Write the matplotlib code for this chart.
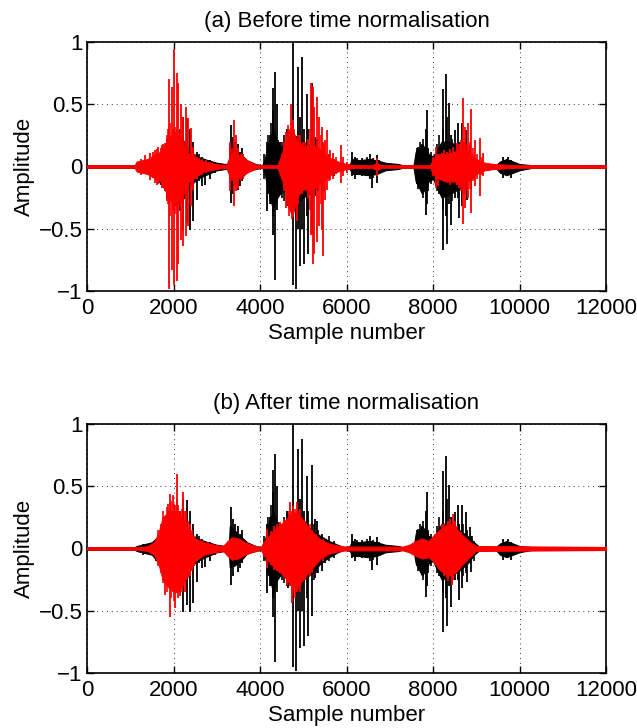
import matplotlib
matplotlib.use("Agg")
import matplotlib.pyplot as plt

plt.rcParams['font.family'] = ['Liberation Sans', 'DejaVu Sans']

# ---------------- data ----------------
# Reference signal (black), same in both panels: dense body envelope
black_env_x = [0, 1100, 1150, 1500, 1800, 1950, 2100, 2250, 2400, 2550,
               2800, 3000, 3200, 3280, 3300, 3400, 3550, 3700, 3900, 4050,
               4100, 4200, 4300, 4400, 4500, 4600, 4800, 5000, 5200, 5400,
               5600, 5800, 5950, 6080, 6120, 6300, 6500, 6700, 6900, 7200,
               7300, 7550, 7600, 7750, 7900, 8000, 8200, 8400, 8600, 8800,
               8950, 9050, 9450, 9550, 9700, 9850, 10000, 10300, 12000]
black_env_hi = [0.01, 0.01, 0.02, 0.05, 0.15, 0.25, 0.25, 0.20, 0.12, 0.08,
                0.05, 0.03, 0.02, 0.02, 0.18, 0.15, 0.10, 0.05, 0.02, 0.01,
                0.05, 0.20, 0.30, 0.20, 0.15, 0.20, 0.25, 0.20, 0.15, 0.10,
                0.06, 0.03, 0.01, 0.02, 0.06, 0.05, 0.06, 0.05, 0.03, 0.02,
                0.01, 0.01, 0.12, 0.18, 0.10, 0.08, 0.20, 0.20, 0.15, 0.10,
                0.05, 0.02, 0.01, 0.04, 0.06, 0.04, 0.02, 0.01, 0.01]
black_env_lo = [-0.01, -0.01, -0.02, -0.05, -0.18, -0.28, -0.30, -0.25, -0.15, -0.10,
                -0.06, -0.03, -0.02, -0.02, -0.15, -0.14, -0.10, -0.04, -0.02, -0.01,
                -0.05, -0.20, -0.35, -0.25, -0.20, -0.20, -0.30, -0.25, -0.20, -0.12,
                -0.07, -0.03, -0.01, -0.02, -0.06, -0.06, -0.07, -0.06, -0.03, -0.02,
                -0.01, -0.01, -0.12, -0.22, -0.12, -0.10, -0.25, -0.22, -0.18, -0.12,
                -0.05, -0.02, -0.01, -0.05, -0.07, -0.05, -0.03, -0.01, -0.01]
# Reference signal: individual large peaks
black_spk_x = [2227, 2304, 2381, 2459, 2536, 2650, 2728, 2850,
               3329, 3383, 3420, 3499, 3540, 3576,
               4154, 4230, 4293, 4308, 4347, 4385, 4424, 4462, 4616, 4655,
               4755, 4832, 4886, 4925, 4979, 5017, 5079, 5117, 5194, 5272,
               5310, 5426, 5500,
               6119, 6200, 6350, 6543, 6582, 6697, 6750,
               7622, 7738, 7830, 7853, 7892, 8223, 8239, 8293, 8316, 8370,
               8416, 8508, 8585, 8601, 8663, 8678, 8755, 8778, 8855, 8878,
               9620, 9742, 9800]
black_spk_hi = [0.40, 0.39, 0.30, 0.20, 0.12, 0.08, 0.06, 0.05,
                0.33, 0.24, 0.20, 0.18, 0.12, 0.15,
                0.20, 0.25, 0.45, 0.63, 0.76, 0.50, 0.21, 0.20, 0.30, 0.28,
                1.00, 0.24, 0.80, 0.40, 0.88, 0.30, 0.58, 0.30, 0.67, 0.24,
                0.22, 0.12, 0.08,
                0.12, 0.08, 0.07, 0.10, 0.06, 0.09, 0.05,
                0.15, 0.18, 0.30, 0.45, 0.15, 0.62, 0.30, 0.74, 0.40, 0.51,
                0.25, 0.29, 0.35, 0.20, 0.35, 0.20, 0.29, 0.15, 0.17, 0.10,
                0.08, 0.08, 0.05]
black_spk_lo = [-0.51, -0.45, -0.51, -0.44, -0.27, -0.16, -0.15, -0.10,
                -0.29, -0.22, -0.12, -0.19, -0.16, -0.12,
                -0.36, -0.30, -0.40, -0.55, -0.91, -0.35, -0.24, -0.22, -0.30, -0.32,
                -0.95, -0.98, -0.50, -0.80, -0.50, -0.78, -0.40, -0.70, -0.54, -0.24,
                -0.20, -0.18, -0.12,
                -0.08, -0.10, -0.08, -0.10, -0.17, -0.13, -0.06,
                -0.14, -0.21, -0.39, -0.30, -0.20, -0.35, -0.67, -0.40, -0.62, -0.30,
                -0.47, -0.25, -0.25, -0.41, -0.20, -0.32, -0.20, -0.27, -0.12, -0.19,
                -0.09, -0.07, -0.09]
# Reference signal: smaller peaks on the edge of the dense body
black_bdy_x = [1300, 1600, 1700, 1850, 1900, 2000, 2050, 2150, 2600, 2950, 3050,
               4100, 4190, 4260, 4500, 4550, 4700, 5250, 5350, 5600, 5700,
               6150, 6250, 6420, 6470, 6620,
               7650, 7700, 7780, 7950, 8100, 8150, 8450, 8700, 8900, 8950]
black_bdy_hi = [0.04, 0.08, 0.12, 0.22, 0.30, 0.30, 0.28, 0.30, 0.10, 0.04, 0.03,
                0.10, 0.25, 0.35, 0.20, 0.25, 0.25, 0.20, 0.15, 0.10, 0.06,
                0.05, 0.07, 0.05, 0.08, 0.07,
                0.16, 0.20, 0.22, 0.12, 0.18, 0.25, 0.22, 0.20, 0.10, 0.06]
black_bdy_lo = [-0.05, -0.10, -0.15, -0.26, -0.30, -0.35, -0.32, -0.36, -0.12, -0.05, -0.04,
                -0.10, -0.22, -0.30, -0.25, -0.28, -0.30, -0.25, -0.20, -0.10, -0.08,
                -0.07, -0.06, -0.08, -0.05, -0.09,
                -0.18, -0.16, -0.25, -0.14, -0.20, -0.22, -0.28, -0.22, -0.08, -0.10]

# Test signal before time normalisation (red, panel a)
red_a_env_x = [0, 1100, 1150, 1400, 1700, 1850, 2000, 2150, 2300, 2450,
               2700, 3000, 3200, 3230, 3300, 3400, 3550, 3750, 3880, 3950,
               4400, 4450, 4550, 4650, 4750, 4850, 5000, 5150, 5350, 5550,
               5800, 6000, 6200, 6600, 6700, 6800, 7930, 8000, 8150, 8300,
               8500, 8650, 8800, 9000, 9200, 9400, 9900, 12000]
red_a_env_hi = [0.01, 0.01, 0.04, 0.06, 0.12, 0.20, 0.27, 0.22, 0.12, 0.08,
                0.04, 0.02, 0.01, 0.02, 0.08, 0.12, 0.08, 0.04, 0.02, 0.01,
                0.01, 0.05, 0.15, 0.28, 0.30, 0.20, 0.15, 0.18, 0.15, 0.08,
                0.04, 0.02, 0.01, 0.01, 0.03, 0.01, 0.01, 0.06, 0.10, 0.10,
                0.12, 0.15, 0.12, 0.06, 0.03, 0.02, 0.01, 0.01]
red_a_env_lo = [-0.01, -0.01, -0.04, -0.06, -0.12, -0.22, -0.30, -0.25, -0.14, -0.09,
                -0.04, -0.02, -0.01, -0.02, -0.08, -0.12, -0.08, -0.04, -0.02, -0.01,
                -0.01, -0.05, -0.15, -0.32, -0.40, -0.25, -0.18, -0.20, -0.15, -0.08,
                -0.04, -0.02, -0.01, -0.01, -0.03, -0.01, -0.01, -0.06, -0.10, -0.12,
                -0.12, -0.15, -0.12, -0.06, -0.03, -0.02, -0.01, -0.01]
red_a_spk_x = [1200, 1260, 1341, 1457, 1520, 1572, 1610, 1649, 1700, 1726,
               1760, 1803, 1904, 1958, 2012, 2073, 2112, 2173, 2227, 2281,
               2343, 2397, 2459, 2550,
               3306, 3406, 3440, 3500, 3600,
               4600, 4709, 4755, 4848, 4925, 5002, 5079, 5179, 5218, 5256,
               5310, 5364, 5426, 5449, 5503, 5557, 5618, 5695, 5865, 5927, 6004,
               6697,
               8069, 8123, 8200, 8316, 8470, 8547, 8647, 8686, 8740, 8817,
               8878, 8971, 9086, 9163]
red_a_spk_hi = [0.04, 0.06, 0.09, 0.11, 0.12, 0.13, 0.14, 0.16, 0.15, 0.17,
                0.18, 0.19, 0.70, 0.64, 0.94, 0.75, 0.67, 0.50, 0.40, 0.48,
                0.39, 0.31, 0.16, 0.08,
                0.20, 0.37, 0.25, 0.15, 0.10,
                0.28, 0.50, 0.37, 0.20, 0.25, 0.20, 0.15, 0.67, 0.64, 0.48,
                0.56, 0.40, 0.32, 0.20, 0.21, 0.29, 0.13, 0.11, 0.17, 0.08, 0.04,
                0.07,
                0.16, 0.10, 0.11, 0.12, 0.16, 0.19, 0.21, 0.55, 0.32, 0.35,
                0.46, 0.21, 0.23, 0.11]
red_a_spk_lo = [-0.05, -0.07, -0.06, -0.11, -0.09, -0.13, -0.15, -0.14, -0.12, -0.17,
                -0.15, -0.20, -0.98, -0.83, -0.95, -0.92, -0.78, -0.59, -0.64, -0.56,
                -0.48, -0.32, -0.19, -0.10,
                -0.20, -0.32, -0.20, -0.18, -0.10,
                -0.33, -0.35, -0.40, -0.44, -0.20, -0.20, -0.10, -0.55, -0.78, -0.70,
                -0.61, -0.48, -0.50, -0.72, -0.27, -0.19, -0.11, -0.10, -0.13, -0.08, -0.05,
                -0.08,
                -0.17, -0.16, -0.10, -0.09, -0.11, -0.15, -0.20, -0.46, -0.33, -0.25,
                -0.37, -0.16, -0.24, -0.08]
red_a_bdy_x = [1850, 1880, 1930, 1980, 2040, 2090, 2140, 2200, 2250, 2320,
               2420, 2500, 2600, 2650, 2750, 2850,
               3350, 3470, 3550, 3650,
               4500, 4560, 4640, 4680, 4730, 4790, 4880, 4970, 5050, 5120,
               5150, 5400, 5480, 5600, 5750,
               8000, 8250, 8400, 8600, 8720, 8780, 8850, 8920, 9020, 9130]
red_a_bdy_hi = [0.25, 0.30, 0.35, 0.30, 0.32, 0.30, 0.28, 0.22, 0.20, 0.15,
                0.12, 0.10, 0.07, 0.06, 0.05, 0.04,
                0.15, 0.14, 0.10, 0.07,
                0.10, 0.20, 0.33, 0.30, 0.35, 0.30, 0.25, 0.18, 0.20, 0.22,
                0.30, 0.25, 0.18, 0.10, 0.08,
                0.08, 0.13, 0.14, 0.18, 0.20, 0.18, 0.20, 0.15, 0.10, 0.08]
red_a_bdy_lo = [-0.28, -0.30, -0.40, -0.35, -0.38, -0.35, -0.32, -0.28, -0.24, -0.20,
                -0.12, -0.10, -0.08, -0.07, -0.05, -0.04,
                -0.12, -0.16, -0.12, -0.06,
                -0.10, -0.20, -0.30, -0.40, -0.42, -0.35, -0.30, -0.22, -0.18, -0.25,
                -0.35, -0.30, -0.20, -0.12, -0.06,
                -0.08, -0.12, -0.15, -0.17, -0.22, -0.20, -0.18, -0.12, -0.10, -0.07]

# Test signal after time normalisation (red, panel b)
red_b_env_x = [0, 1200, 1400, 1550, 1650, 1750, 1900, 2050, 2200, 2350,
               2500, 2700, 2950, 3100, 3150, 3250, 3350, 3500, 3650, 3800,
               3950, 4000, 4020, 4080, 4200, 4350, 4500, 4650, 4800, 4950,
               5100, 5250, 5400, 5600, 5850, 6000, 7300, 7450, 7600, 7750,
               7900, 8000, 8150, 8350, 8500, 8700, 8900, 9000, 12000]
red_b_env_hi = [0.01, 0.01, 0.02, 0.05, 0.12, 0.25, 0.30, 0.30, 0.25, 0.15,
                0.08, 0.05, 0.03, 0.02, 0.02, 0.06, 0.09, 0.08, 0.05, 0.03,
                0.015, 0.01, 0.01, 0.05, 0.10, 0.16, 0.20, 0.25, 0.29, 0.25,
                0.18, 0.12, 0.07, 0.04, 0.02, 0.015, 0.015, 0.03, 0.06, 0.08,
                0.06, 0.10, 0.15, 0.20, 0.17, 0.10, 0.04, 0.02, 0.012]
red_b_env_lo = [-0.01, -0.01, -0.02, -0.05, -0.12, -0.25, -0.32, -0.35, -0.30, -0.20,
                -0.10, -0.05, -0.03, -0.02, -0.02, -0.06, -0.09, -0.08, -0.05, -0.03,
                -0.015, -0.01, -0.01, -0.05, -0.10, -0.16, -0.20, -0.26, -0.30, -0.27,
                -0.20, -0.14, -0.08, -0.04, -0.02, -0.015, -0.015, -0.03, -0.06, -0.08,
                -0.07, -0.10, -0.17, -0.22, -0.20, -0.12, -0.05, -0.02, -0.012]
red_b_spk_x = [1803, 1881, 1919, 1996, 2035, 2073, 2112, 2150, 2227, 2266,
               2300, 2380,
               4154, 4462, 4616, 4693, 4732, 4848, 4925, 5000,
               8316, 8393, 8431, 8454, 8508]
red_b_spk_hi = [0.25, 0.36, 0.44, 0.43, 0.35, 0.60, 0.35, 0.30, 0.45, 0.30,
                0.30, 0.20,
                0.16, 0.21, 0.24, 0.37, 0.30, 0.37, 0.32, 0.22,
                0.18, 0.24, 0.20, 0.28, 0.22]
red_b_spk_lo = [-0.37, -0.30, -0.55, -0.35, -0.48, -0.35, -0.40, -0.38, -0.30, -0.35,
                -0.25, -0.22,
                -0.16, -0.20, -0.29, -0.30, -0.44, -0.35, -0.35, -0.25,
                -0.24, -0.20, -0.29, -0.25, -0.18]
red_b_bdy_x = [1650, 1700, 1760, 1840, 1950, 2010, 2090, 2190, 2330, 2420,
               2470, 2550, 2650, 2800,
               4250, 4320, 4400, 4550, 4660, 4760, 4800, 4880, 5050, 5150,
               5200, 5300, 5450,
               8050, 8200, 8250, 8350, 8480, 8560, 8650]
red_b_bdy_hi = [0.15, 0.20, 0.30, 0.33, 0.38, 0.36, 0.40, 0.32, 0.22, 0.15,
                0.10, 0.08, 0.06, 0.05,
                0.14, 0.18, 0.20, 0.24, 0.30, 0.34, 0.32, 0.30, 0.22, 0.20,
                0.15, 0.12, 0.08,
                0.12, 0.20, 0.20, 0.22, 0.20, 0.18, 0.13]
red_b_bdy_lo = [-0.14, -0.20, -0.28, -0.35, -0.40, -0.42, -0.36, -0.35, -0.24, -0.18,
                -0.14, -0.10, -0.07, -0.05,
                -0.13, -0.17, -0.18, -0.22, -0.28, -0.36, -0.40, -0.33, -0.25, -0.22,
                -0.20, -0.12, -0.10,
                -0.12, -0.18, -0.22, -0.26, -0.20, -0.20, -0.15]

titles = ['(a) Before time normalisation', '(b) After time normalisation']
x_ticks = [0, 2000, 4000, 6000, 8000, 10000, 12000]
y_ticks = [-1, -0.5, 0, 0.5, 1]
y_ticklabels = ['\u22121', '\u22120.5', '0', '0.5', '1']

# ---------------- drawing ----------------
FS = 16
fig = plt.figure(figsize=(6.37, 7.28), dpi=100)
ax1 = fig.add_axes([87 / 637, 1 - 291 / 728, 519 / 637, 249 / 728])
ax2 = fig.add_axes([87 / 637, 1 - 673 / 728, 519 / 637, 249 / 728])


def draw_signal(ax, env, spk, bdy, color, z):
    ex, ehi, elo = env
    ax.fill_between(ex, elo, ehi, facecolor=color, edgecolor=color,
                    lw=0.8, zorder=z)
    bx, bhi, blo = bdy
    ax.vlines(bx, blo, bhi, colors=color, lw=1.2, zorder=z)
    sx, shi, slo = spk
    ax.vlines(sx, slo, shi, colors=color, lw=1.3, zorder=z)


black = ((black_env_x, black_env_hi, black_env_lo),
         (black_spk_x, black_spk_hi, black_spk_lo),
         (black_bdy_x, black_bdy_hi, black_bdy_lo))
reds = [((red_a_env_x, red_a_env_hi, red_a_env_lo),
         (red_a_spk_x, red_a_spk_hi, red_a_spk_lo),
         (red_a_bdy_x, red_a_bdy_hi, red_a_bdy_lo)),
        ((red_b_env_x, red_b_env_hi, red_b_env_lo),
         (red_b_spk_x, red_b_spk_hi, red_b_spk_lo),
         (red_b_bdy_x, red_b_bdy_hi, red_b_bdy_lo))]

for i, ax in enumerate([ax1, ax2]):
    draw_signal(ax, *black, 'black', 2)
    draw_signal(ax, *reds[i], '#ff0000', 3)

    ax.set_xlim(0, 12000)
    ax.set_ylim(-1, 1)
    ax.set_xticks(x_ticks)
    ax.set_xticklabels([str(t) for t in x_ticks])
    ax.set_yticks(y_ticks)
    ax.set_yticklabels(y_ticklabels)
    ax.grid(True, linestyle=(0, (1, 4)), color='#333333', lw=0.7)
    ax.set_axisbelow(True)
    ax.tick_params(direction='in', top=True, right=True, length=5,
                   width=1.0, labelsize=FS)
    ax.tick_params(axis='x', pad=5)
    ax.tick_params(axis='y', pad=3)
    for sp in ax.spines.values():
        sp.set_linewidth(1.2)
    ax.set_xlabel('Sample number', fontsize=FS, labelpad=3)
    ax.set_ylabel('Amplitude', fontsize=FS, labelpad=3)
    ax.set_title(titles[i], fontsize=FS, pad=11)

fig.savefig('out.png', dpi=100)
